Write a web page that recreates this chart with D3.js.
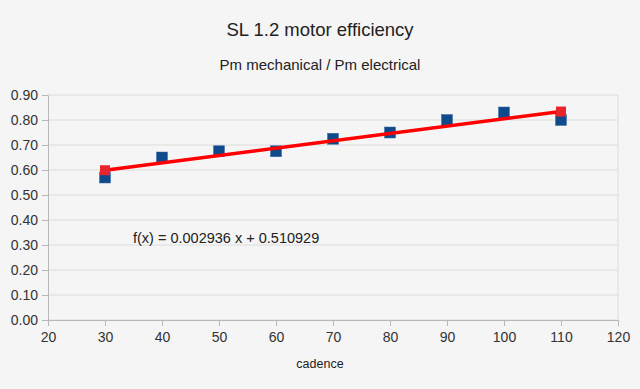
<!DOCTYPE html>
<html>
<head>
<meta charset="utf-8">
<script src="https://cdn.jsdelivr.net/npm/d3@7"></script>
<style>
  body { margin: 0; background: #f5f5f5; }
  svg { display: block; font-family: "Liberation Sans", Arial, sans-serif; }
</style>
</head>
<body>
<div id="chart"></div>
<script>
// data
const cadence = [30, 40, 50, 60, 70, 80, 90, 100, 110];
const efficiency = [0.57, 0.65, 0.675, 0.675, 0.725, 0.75, 0.80, 0.83, 0.80];
const xTicks = [20, 30, 40, 50, 60, 70, 80, 90, 100, 110, 120];
const yTicks = [0, 0.1, 0.2, 0.3, 0.4, 0.5, 0.6, 0.7, 0.8, 0.9];
const trendSlope = 0.002936;
const trendIntercept = 0.510929;
const trendRange = [30, 110];

function drawSvg() {
    const margin = { top: 95, right: 22, bottom: 69, left: 48 },
        width = 640 - margin.left - margin.right,
        height = 389 - margin.top - margin.bottom;

    const root = d3.select("#chart")
        .append("svg")
        .attr("width", 640)
        .attr("height", 389);

    root.append("rect")
        .attr("width", 640).attr("height", 389)
        .attr("fill", "#f5f5f5");

    // titles
    root.append("text")
        .attr("x", 320).attr("y", 36)
        .attr("text-anchor", "middle")
        .attr("font-size", "18.5px")
        .attr("fill", "#222")
        .text("SL 1.2 motor efficiency");
    root.append("text")
        .attr("x", 320).attr("y", 70)
        .attr("text-anchor", "middle")
        .attr("font-size", "15px")
        .attr("fill", "#222")
        .text("Pm mechanical / Pm electrical");

    // axis title
    root.append("text")
        .attr("x", 320).attr("y", 368)
        .attr("text-anchor", "middle")
        .attr("font-size", "12.5px")
        .attr("fill", "#222")
        .text("cadence");

    const svg = root.append("g")
        .attr("transform", "translate(" + margin.left + "," + margin.top + ")");

    const x = d3.scaleLinear().domain([20, 120]).range([0, width]);
    const y = d3.scaleLinear().domain([0, 0.9]).range([height, 0]);

    // grid lines
    svg.append("g")
        .selectAll("line")
        .data(yTicks)
        .enter()
        .append("line")
        .attr("x1", 0).attr("x2", width)
        .attr("y1", d => y(d)).attr("y2", d => y(d))
        .attr("stroke", "#dcdcdc")
        .attr("stroke-width", 1);
    svg.append("line")
        .attr("x1", width).attr("x2", width)
        .attr("y1", 0).attr("y2", height)
        .attr("stroke", "#dcdcdc");

    // Y axis
    const yAxis = svg.append("g")
        .call(d3.axisLeft(y).tickValues(yTicks).tickFormat(d3.format(".2f")).tickSize(6).tickSizeOuter(0));
    yAxis.selectAll("text")
        .attr("font-size", "14px")
        .attr("fill", "#333")
        .attr("x", -10);

    // X axis
    const xAxis = svg.append("g")
        .attr("transform", "translate(0," + height + ")")
        .call(d3.axisBottom(x).tickValues(xTicks).tickSize(6).tickSizeOuter(0));
    xAxis.selectAll("text")
        .attr("font-size", "14px")
        .attr("fill", "#333")
        .attr("y", 12);

    svg.selectAll(".domain, .tick line")
        .attr("stroke", "#b8b8b8");
    svg.selectAll(".tick text")
        .attr("font-family", "Liberation Sans, Arial, sans-serif");

    // data squares
    const sq = 11;
    svg.selectAll("rect.pt")
        .data(cadence)
        .enter()
        .append("rect")
        .attr("class", "pt")
        .attr("x", (d) => x(d) - sq / 2)
        .attr("y", (d, i) => y(efficiency[i]) - sq / 2)
        .attr("width", sq).attr("height", sq)
        .attr("fill", "#0f4a8a")
        .attr("stroke", "#3a6aa5")
        .attr("stroke-width", 0.5);

    // trend line
    const trend = trendRange.map(c => [c, trendSlope * c + trendIntercept]);
    svg.append("path")
        .datum(trend)
        .attr("d", d3.line().x(d => x(d[0])).y(d => y(d[1])))
        .attr("stroke", "#ff0000")
        .attr("stroke-width", 3.5)
        .attr("fill", "none");
    svg.selectAll("rect.tr")
        .data(trend)
        .enter()
        .append("rect")
        .attr("class", "tr")
        .attr("x", d => x(d[0]) - 5)
        .attr("y", d => y(d[1]) - 5)
        .attr("width", 10).attr("height", 10)
        .attr("fill", "#e8242c");

    svg.append("text")
        .attr("x", 133 - margin.left).attr("y", 243 - margin.top)
        .attr("font-size", "14.5px")
        .attr("fill", "#222")
        .text("f(x) = " + trendSlope + " x + " + trendIntercept);
}

drawSvg();
</script>
</body>
</html>
